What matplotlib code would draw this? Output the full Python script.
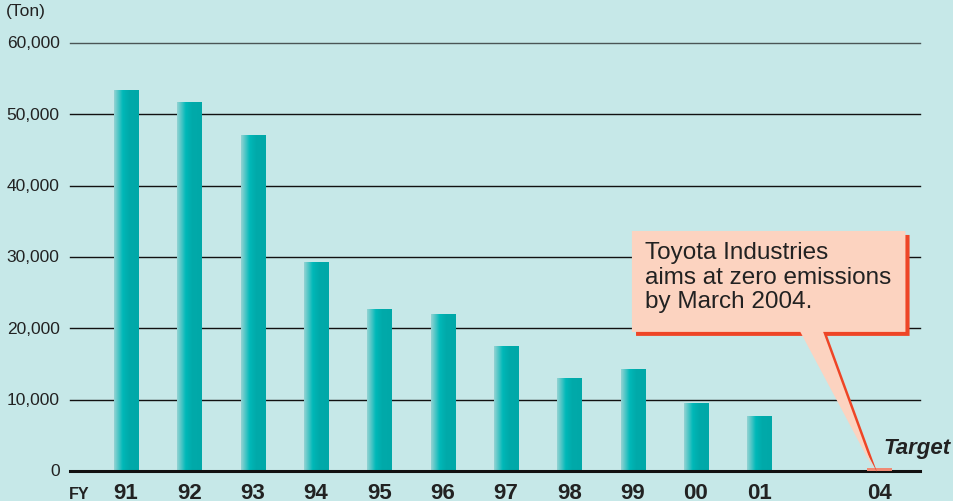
import numpy as np
import matplotlib.pyplot as plt
from matplotlib.colors import LinearSegmentedColormap
from matplotlib.patches import Polygon

plt.rcParams['font.family'] = ['Liberation Sans', 'DejaVu Sans']

# data
years = ['91', '92', '93', '94', '95', '96', '97', '98', '99', '00', '01', '04']
positions = [0, 1, 2, 3, 4, 5, 6, 7, 8, 9, 10, 11.9]
waste = [53300, 51700, 47100, 29200, 22600, 22000, 17500, 13000, 14200, 9400, 7600, 400]
yticks = [0, 10000, 20000, 30000, 40000, 50000, 60000]
note = "Toyota Industries\naims at zero emissions\nby March 2004."

BG = '#c6e8e8'
TEXT = '#222222'
width = 0.38

fig = plt.figure(figsize=(9.54, 5.02), dpi=100)
fig.patch.set_facecolor(BG)
ax = fig.add_axes([70 / 954, 30 / 502, 850 / 954, 428 / 502])
ax.set_facecolor(BG)
for s in ax.spines.values():
    s.set_visible(False)
ax.set_xticks([])
ax.set_yticks([])

# grid lines
for t in yticks[1:]:
    ax.axhline(t, color='#4a5555' if t == 60000 else '#111111', lw=1.0, clip_on=False, zorder=1)
ax.axhline(0, color='#111111', lw=2.2, clip_on=False, zorder=4)

# bars with gradient
grad = LinearSegmentedColormap.from_list('g', [(0, '#93d3d3'), (0.35, '#00b8b8'),
                                               (0.6, '#00aaaa'), (1, '#00a8a8')])
g = np.linspace(0, 1, 64).reshape(1, -1)
for i, (x, v) in enumerate(zip(positions, waste)):
    if years[i] == '04':
        ax.bar(x, v, width=width * 1.05, color='#f08a74', zorder=5)
        continue
    ax.imshow(g, cmap=grad, extent=[x - width / 2, x + width / 2, 0, v],
              aspect='auto', zorder=2, interpolation='bilinear')
ax.set_xlim(-0.885, 12.54)
ax.set_ylim(0, 60000)

# y labels
for t in yticks:
    ax.text(-1.05, t, f'{t:,}', ha='right', va='center', fontsize=12.5, color=TEXT, clip_on=False)
ax.text(-1.9, 64500, '(Ton)', ha='left', va='center', fontsize=12.5, color=TEXT, clip_on=False)

# x labels
for x, y in zip(positions, years):
    ax.text(x, -3000, y, ha='center', va='center', fontsize=16, fontweight='bold', color=TEXT, clip_on=False)
ax.text(-0.9, -3150, 'FY', ha='left', va='center', fontsize=11.5, fontweight='bold', color=TEXT, clip_on=False)
ax.text(11.97, 3250, 'Target', ha='left', va='center', fontsize=16, fontweight='bold',
        fontstyle='italic', color=TEXT, clip_on=False)

# callout
tx = positions[-1] - 0.1
box_l, box_r, box_b, box_t = 7.99, 12.31, 19500, 33650
base_l, base_r = 10.65, 11.01
dx, dy = 0.065, 560
shape = [(box_l, box_t), (box_r, box_t), (box_r, box_b), (base_r, box_b), (tx, 350),
         (base_l, box_b), (box_l, box_b)]
shadow = [(px + dx, py - dy) for px, py in shape]
ax.add_patch(Polygon(shadow, closed=True, facecolor='#ee4526', edgecolor='none', zorder=5, clip_on=False))
ax.add_patch(Polygon(shape, closed=True, facecolor='#fcd3c0', edgecolor='none', zorder=6, clip_on=False))
ax.text(box_l + 0.2, 32200, note, ha='left', va='top', fontsize=17.5, color=TEXT,
        linespacing=1.13, zorder=7)

fig.savefig('out.png', dpi=100, facecolor=BG)
